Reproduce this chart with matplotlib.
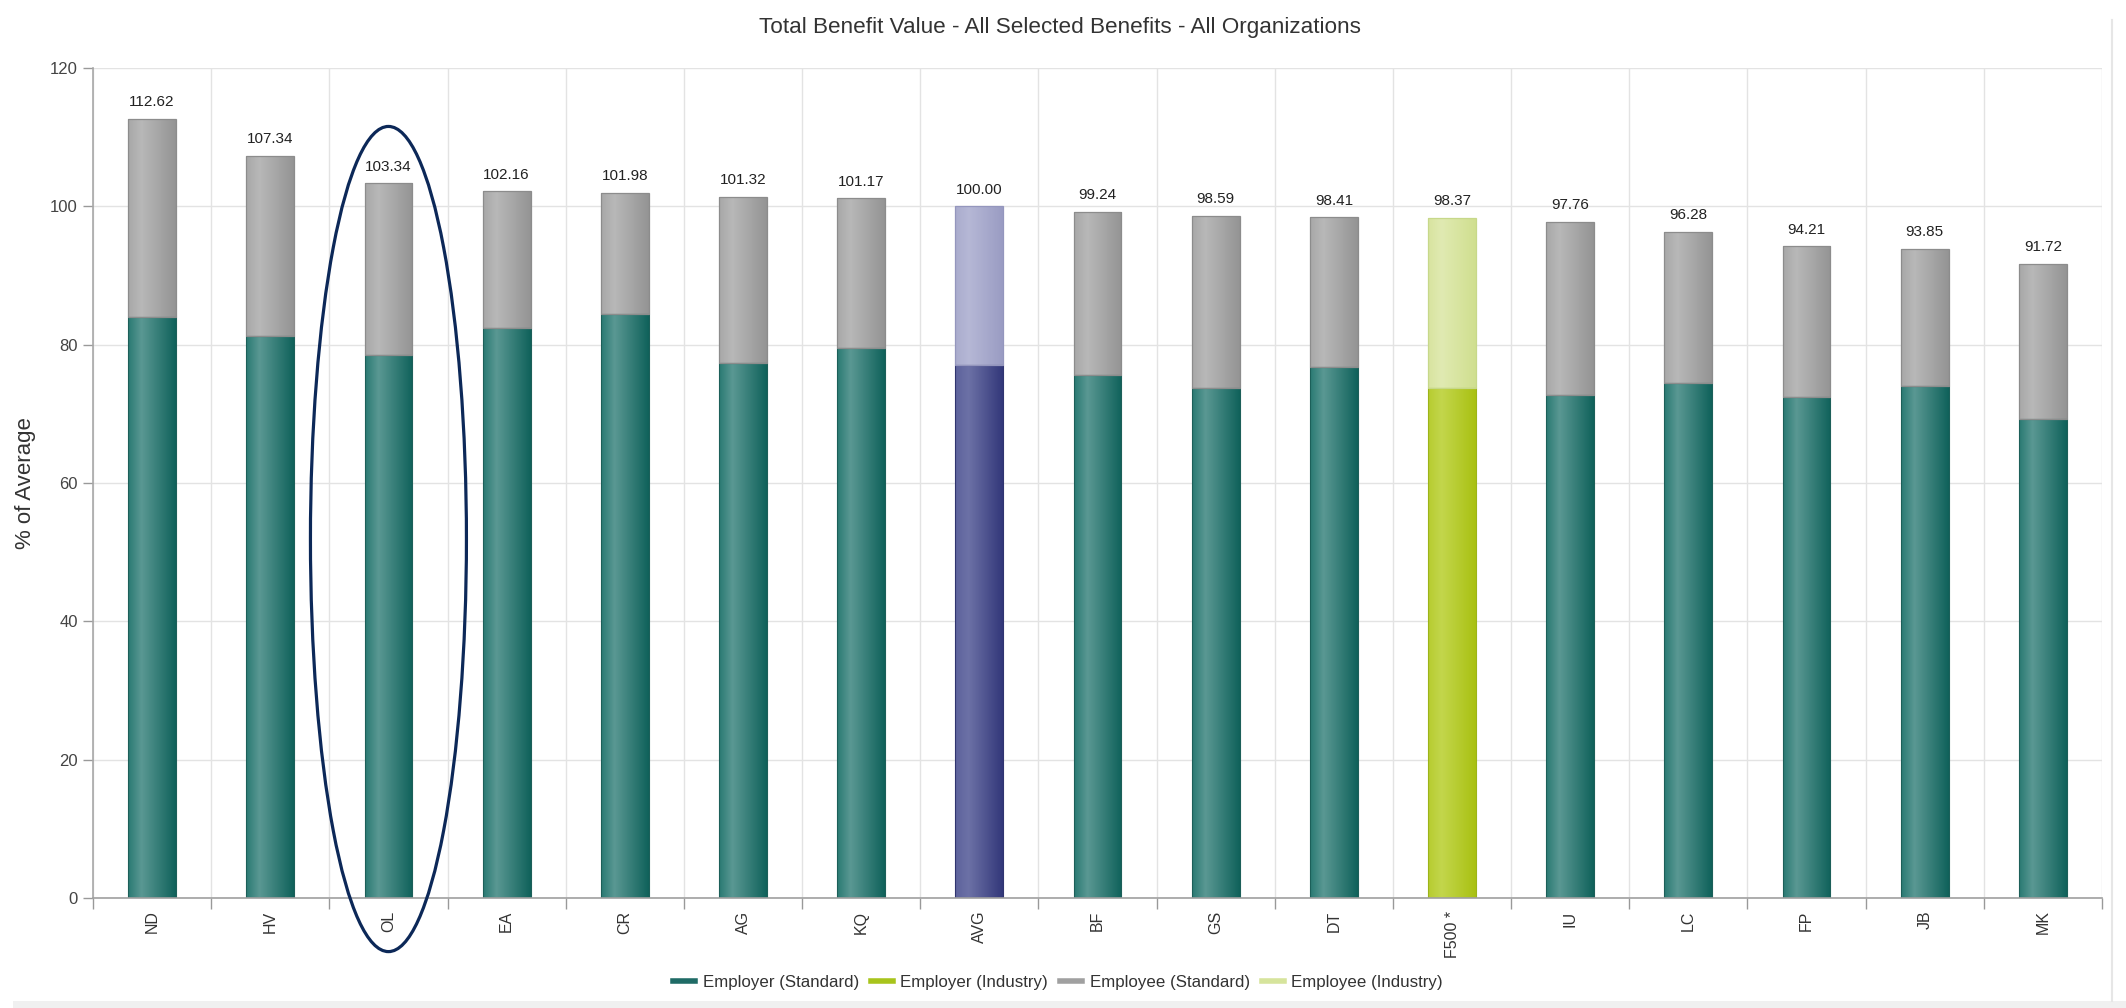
import numpy as np
import matplotlib
matplotlib.use("Agg")
import matplotlib.pyplot as plt
from matplotlib.lines import Line2D
from matplotlib.patches import Ellipse, Rectangle

plt.rcParams['font.family'] = ['Liberation Sans', 'DejaVu Sans']

# ---------------- data ----------------
categories = ['ND', 'HV', 'OL', 'EA', 'CR', 'AG', 'KQ', 'AVG', 'BF', 'GS',
              'DT', 'F500 *', 'IU', 'LC', 'FP', 'JB', 'MK']
totals = [112.62, 107.34, 103.34, 102.16, 101.98, 101.32, 101.17, 100.00, 99.24,
          98.59, 98.41, 98.37, 97.76, 96.28, 94.21, 93.85, 91.72]
employer = [84.0, 81.2, 78.5, 82.4, 84.5, 77.4, 79.5, 77.0, 75.6, 73.7,
            76.7, 73.8, 72.7, 74.5, 72.5, 74.0, 69.2]
employee = [28.62, 26.14, 24.84, 19.76, 17.48, 23.92, 21.67, 23.00, 23.64, 24.89,
            21.71, 24.57, 25.06, 21.78, 21.71, 19.85, 22.52]
groups = ['std', 'std', 'std', 'std', 'std', 'std', 'std', 'avg', 'std', 'std',
          'std', 'ind', 'std', 'std', 'std', 'std', 'std']
y_ticks = [0, 20, 40, 60, 80, 100, 120]
title = 'Total Benefit Value - All Selected Benefits - All Organizations'
legend_labels = ['Employer (Standard)', 'Employer (Industry)',
                 'Employee (Standard)', 'Employee (Industry)']

# gradient stops (left, highlight, right)
grad_employer = {
    'std': ['#2a7a73', '#5a9893', '#10625b'],
    'avg': ['#5d629c', '#6c71a6', '#33387a'],
    'ind': ['#b6cc30', '#c3d64c', '#a9c112'],
}
grad_employee = {
    'std': ['#a8a8a8', '#b8b8b8', '#949494'],
    'avg': ['#a9abcd', '#b6b8d6', '#9a9cc3'],
    'ind': ['#d8e49f', '#e0eab2', '#d0df8f'],
}
edge_col = {'std': ('#1c5f59', '#8c8c8c'), 'avg': ('#30346f', '#9496bd'),
            'ind': ('#9cb418', '#c7d88a')}
legend_colors = ['#1f6b66', '#a8c41c', '#a0a0a0', '#d6e49c']

# ---------------- figure ----------------
W, H, DPI = 2126, 1008, 100
fig = plt.figure(figsize=(W / DPI, H / DPI), dpi=DPI)
ax = fig.add_axes([93 / W, 1 - 898 / H, (2102 - 93) / W, (898 - 68) / H])

x = np.arange(len(categories))
bw = 0.405


def hex2rgb(h):
    h = h.lstrip('#')
    return np.array([int(h[i:i + 2], 16) / 255 for i in (0, 2, 4)])


def shade(patch, stops):
    pos = [0.0, 0.28, 1.0]
    cols = np.array([hex2rgb(c) for c in stops])
    t = np.linspace(0, 1, 64)
    grad = np.stack([np.interp(t, pos, cols[:, k]) for k in range(3)], axis=-1)[None, :, :]
    px, py = patch.get_x(), patch.get_y()
    pw, ph = patch.get_width(), patch.get_height()
    im = ax.imshow(grad, extent=(px, px + pw, py, py + ph), aspect='auto',
                   interpolation='bilinear', zorder=2.2)
    im.set_clip_path(patch)


emp_bars = ax.bar(x, employer, width=bw, color='none', zorder=2)
ee_bars = ax.bar(x, employee, bottom=employer, width=bw, color='none', zorder=2)
for i, g in enumerate(groups):
    shade(emp_bars[i], grad_employer[g])
    shade(ee_bars[i], grad_employee[g])
    ax.add_patch(Rectangle((emp_bars[i].get_x(), 0), bw, employer[i], fill=False,
                           edgecolor=edge_col[g][0], lw=0.8, zorder=2.5))
    ax.add_patch(Rectangle((ee_bars[i].get_x(), employer[i]), bw, employee[i], fill=False,
                           edgecolor=edge_col[g][1], lw=0.9, zorder=2.5))

for xi, tot in zip(x, totals):
    ax.annotate(f'{tot:.2f}', (xi, tot), xytext=(0, 7), textcoords='offset points',
                ha='center', va='bottom', fontsize=11, color='#222222')

ax.set_xlim(-0.5, len(categories) - 0.5)
ax.set_ylim(0, 120)
ax.set_yticks(y_ticks)
ax.set_yticklabels([str(v) for v in y_ticks])
ax.tick_params(axis='y', length=7, width=1, color='#999999', labelsize=12,
               labelcolor='#444444', pad=4)

ax.set_xticks(np.arange(-0.5, len(categories), 1))
ax.set_xticklabels([])
ax.tick_params(axis='x', which='major', length=8, width=1, color='#999999')
ax.set_xticks(x, minor=True)
ax.set_xticklabels(categories, minor=True, rotation=90, fontsize=11.5, color='#333333')
ax.tick_params(axis='x', which='minor', length=0, pad=9)
for lbl in ax.get_xticklabels(minor=True):
    lbl.set_va('top')

ax.grid(True, which='major', color='#e3e3e3', lw=1)
ax.set_axisbelow(True)
for s in ['top', 'right']:
    ax.spines[s].set_visible(False)
ax.spines['left'].set_color('#a8a8a8')
ax.spines['bottom'].set_color('#a0a0a0')
ax.spines['left'].set_linewidth(1.2)
ax.spines['bottom'].set_linewidth(1.2)

ax.set_ylabel('% of Average', fontsize=16, color='#333333', labelpad=10)

fig.text(1060 / W, 1 - 27 / H, title, ha='center', va='center', fontsize=16.2,
         color='#333333')

# highlight ellipse around OL
ell = Ellipse((2, 51.9), width=1.32, height=119.3, fill=False, edgecolor='#0c2858',
              lw=2.3, zorder=4, clip_on=False)
ax.add_patch(ell)

handles = [Line2D([], [], color=c, lw=4) for c in legend_colors]
fig.legend(handles, legend_labels, loc='center', bbox_to_anchor=(1058 / W, 1 - 982 / H),
           ncol=4, frameon=False, fontsize=12.2, handlelength=1.3, handletextpad=0.45,
           columnspacing=0.7, labelcolor='#333333')

# frame decorations of the original container
fig.add_artist(Rectangle((13 / W, 0), 1 - 13 / W, 7 / H, transform=fig.transFigure,
                         facecolor='#f0f0f0', edgecolor='none'))
fig.add_artist(Line2D([2112 / W, 2112 / W], [7 / H, 1 - 20 / H], transform=fig.transFigure,
                      color='#e6e6e6', lw=1.5))

fig.savefig('out.png', dpi=DPI)
